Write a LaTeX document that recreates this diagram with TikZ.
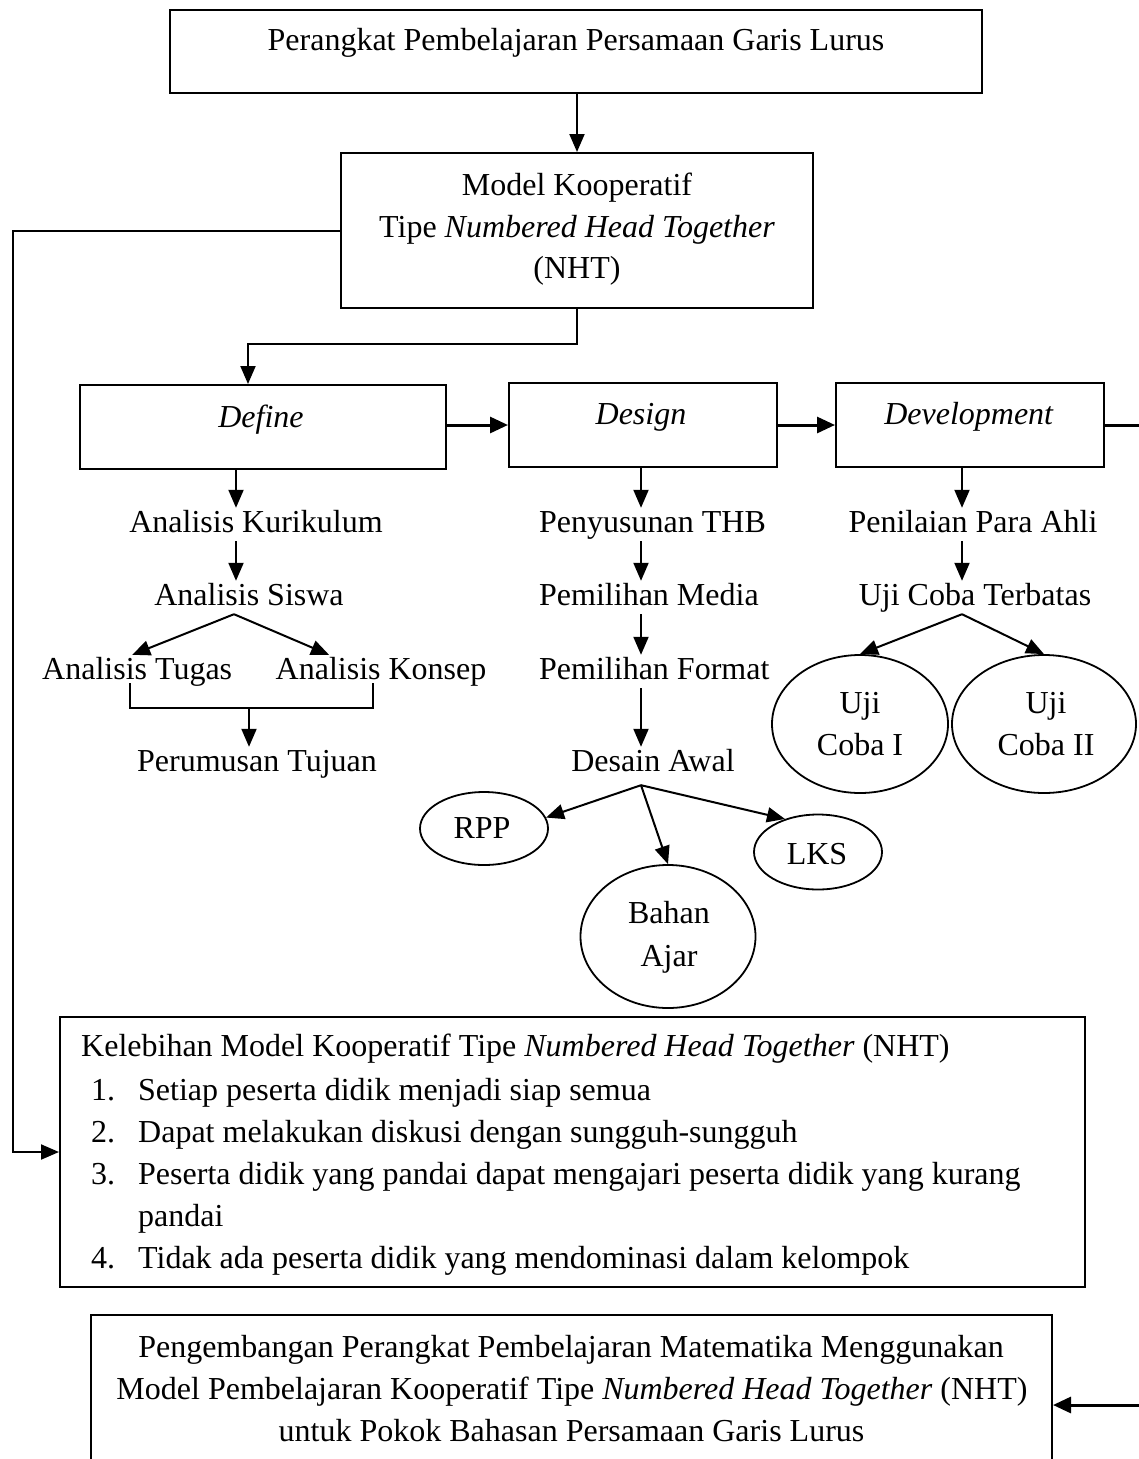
\documentclass[tikz,border=0pt]{standalone}
\usepackage{fontspec}
\setmainfont{Liberation Serif}
\usetikzlibrary{arrows.meta,shapes.geometric}
\begin{document}
\begin{tikzpicture}[x=1pt,y=-1pt,
  font=\fontsize{32}{42}\selectfont,
  box/.style={draw,line width=2pt,inner sep=0pt},
  oval/.style={draw,ellipse,line width=1.8pt,inner sep=0pt},
  txt/.style={inner sep=2pt,text height=22pt,text depth=7pt,anchor=base},
  ltxt/.style={txt,anchor=base west},
  arr/.style={line width=2pt,-{Triangle[length=18pt,width=15pt]}},
  flow/.style={line width=3pt,-{Triangle[length=18pt,width=16pt]}},
  wire/.style={line width=2pt}]
\useasboundingbox (0,0) rectangle (1138,1459);
\fill[white] (0,0) rectangle (1138,1459);

% frames
\node[box,minimum width=812pt,minimum height=83pt] (top) at (576,51.5) {};
\node[box,minimum width=472pt,minimum height=155pt] (model) at (577,230.5) {};
\node[box,minimum width=366pt,minimum height=84pt] (define) at (263,427) {};
\node[box,minimum width=268pt,minimum height=84pt] (design) at (643,425) {};
\node[box,minimum width=268pt,minimum height=84pt] (devel) at (970,425) {};
\node[box,minimum width=1025pt,minimum height=270pt] (kel) at (572.5,1152) {};
\node[box,minimum width=961pt,minimum height=180pt] (goal) at (571.5,1405) {};

% ovals
\node[oval,minimum width=128pt,minimum height=73pt] (rpp) at (484,828.5) {};
\node[oval,minimum width=128pt,minimum height=75pt] (lks) at (818,852) {};
\node[oval,minimum width=175pt,minimum height=143pt] (bahan) at (668,936.5) {};
\node[oval,minimum width=176pt,minimum height=138pt] (uji1) at (860,724) {};
\node[oval,minimum width=184pt,minimum height=138pt] (uji2) at (1044,724) {};

% texts of the frames
\node[txt] (ttl) at (576,50) {Perangkat Pembelajaran Persamaan Garis Lurus};
\node[txt] (m1) at (577,195) {Model Kooperatif};
\node[txt] (m2) at (577,237) {Tipe \textit{Numbered Head Together}};
\node[txt] (m3) at (577,278) {(NHT)};
\node[txt] (tdef) at (261,427) {\textit{Define}};
\node[txt] (tdes) at (641,424) {\textit{Design}};
\node[txt] (tdev) at (969,424) {\textit{Development}};

% define column
\node[txt] (kur) at (256,532) {Analisis Kurikulum};
\node[txt] (siswa) at (249,605) {Analisis Siswa};
\node[ltxt] (tugas) at (40,679) {Analisis Tugas};
\node[ltxt] (konsep) at (273.5,679) {Analisis Konsep};
\node[txt] (tujuan) at (257,771) {Perumusan Tujuan};

% design column
\node[ltxt] (thb) at (537,532) {Penyusunan THB};
\node[ltxt] (media) at (537,605) {Pemilihan Media};
\node[ltxt] (format) at (537,679) {Pemilihan Format};
\node[txt] (awal) at (653,771) {Desain Awal};

% development column
\node[txt] (ahli) at (973,532) {Penilaian Para Ahli};
\node[txt] (terbatas) at (975,605) {Uji Coba Terbatas};

% texts of the ovals
\node[txt] (trpp) at (482,838) {RPP};
\node[txt] (tlks) at (817,864) {LKS};
\node[txt] (tbh1) at (669,923) {Bahan};
\node[txt] (tbh2) at (669,966) {Ajar};
\node[txt] (tu1a) at (860,713) {Uji};
\node[txt] (tu1b) at (860,755) {Coba I};
\node[txt] (tu2a) at (1046,713) {Uji};
\node[txt] (tu2b) at (1046,755) {Coba II};

% advantages list
\node[ltxt] (kelh) at (79,1056) {Kelebihan Model Kooperatif Tipe \textit{Numbered Head Together} (NHT)};
\node[ltxt] (n1) at (89,1100) {1.};
\node[ltxt] (i1) at (136,1100) {Setiap peserta didik menjadi siap semua};
\node[ltxt] (n2) at (89,1142) {2.};
\node[ltxt] (i2) at (136,1142) {Dapat melakukan diskusi dengan sungguh-sungguh};
\node[ltxt] (n3) at (89,1184) {3.};
\node[ltxt] (i3) at (136,1184) {Peserta didik yang pandai dapat mengajari peserta didik yang kurang};
\node[ltxt] (i3b) at (136,1226) {pandai};
\node[ltxt] (n4) at (89,1268) {4.};
\node[ltxt] (i4) at (136,1268) {Tidak ada peserta didik yang mendominasi dalam kelompok};

% final product
\node[txt] (g1) at (571,1357) {Pengembangan Perangkat Pembelajaran Matematika Menggunakan};
\node[txt] (g2) at (572,1399) {Model Pembelajaran Kooperatif Tipe \textit{Numbered Head Together} (NHT)};
\node[txt] (g3) at (571.5,1441) {untuk Pokok Bahasan Persamaan Garis Lurus};

% helper rails
\coordinate (lrail) at (13,0);
\coordinate (rrail) at (1150,0);
\coordinate (split) at (0,344);
\coordinate (dfin) at ([xshift=-15pt]define.north);

% main connectors
\draw[arr] (model.north |- top.south) -- (model.north);
\draw[arr] (model.west) -- (model.west -| lrail) |- (kel.west);
\draw[arr] (model.south) |- (dfin |- split) -- (dfin);
\draw[flow] (define.east |- design.west) -- (design.west);
\draw[flow] (design.east) -- (devel.west);
\draw[flow] (devel.east) -- (devel.east -| rrail) |- (goal.east);

% define column connectors
\draw[arr] ([xshift=-27pt]define.south) coordinate (dk) -- (dk |- kur.north);
\draw[arr] (dk |- kur.south) -- (dk |- siswa.north);
\coordinate (sa) at ([xshift=-15pt]siswa.south);
\draw[arr] (sa) -- ([xshift=-5pt]tugas.north);
\draw[arr] (sa) -- ([xshift=-52pt]konsep.north);
\draw[wire] ([xshift=-7pt,yshift=5pt]tugas.south) -- ++(0,25) coordinate (brk)
  -| ([xshift=-8pt,yshift=5pt]konsep.south);
\coordinate (tj) at ([xshift=-8pt]tujuan.north);
\draw[arr] (tj |- brk) -- (tj);

% design column connectors
\draw[arr] ([xshift=-2pt]design.south) coordinate (ds) -- (ds |- thb.north);
\draw[arr] (ds |- thb.south) -- (ds |- media.north);
\draw[arr] (ds |- media.south) -- (ds |- format.north);
\draw[arr] (ds |- format.south) -- (ds |- awal.north);
\path (ds |- awal.south) ++(0,5) coordinate (da);
\draw[arr] (da) -- (rpp.10);
\draw[arr] (da) -- (bahan.north);
\draw[arr] (da) -- (lks.135);

% development column connectors
\draw[arr] ([xshift=-8pt]devel.south) coordinate (dv) -- (dv |- ahli.north);
\draw[arr] (dv |- ahli.south) -- (dv |- terbatas.north);
\coordinate (ta) at (dv |- terbatas.south);
\draw[arr] (ta) -- (uji1.north);
\draw[arr] (ta) -- (uji2.north);
\end{tikzpicture}
\end{document}
